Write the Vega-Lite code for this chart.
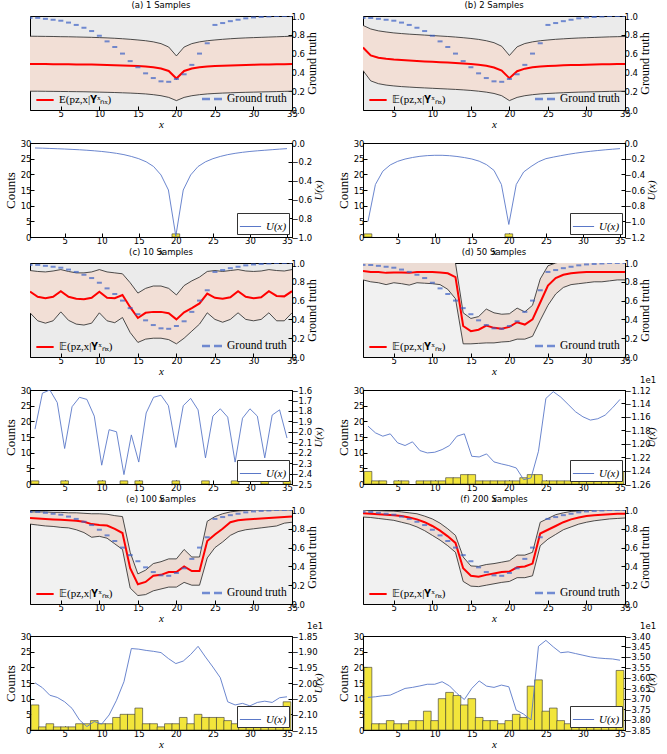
{
"$schema": "https://vega.github.io/schema/vega-lite/v6.json",
"padding": {"left": 3, "top": 0, "right": 2, "bottom": 2},
"config": {
  "font": "DejaVu Sans",
  "view": {"stroke": "#000", "strokeWidth": 1},
  "axis": {"grid": false, "domainColor": "#000", "tickColor": "#000", "labelFont": "DejaVu Sans", "labelFontSize": 8.5, "labelColor": "#000", "titleFont": "Liberation Serif", "titleFontWeight": "normal", "titleFontSize": 12, "titleColor": "#000", "tickSize": -4, "labelPadding": 3, "labelOverlap": false, "labelFlush": false, "titlePadding": 3},
  "title": {"font": "DejaVu Sans", "fontSize": 8.5, "fontWeight": "normal", "offset": 3, "color": "#000"},
  "legend": {"labelFont": "Liberation Serif", "labelFontSize": 11.5, "labelColor": "#000"}
},
"datasets": {
"gt": [{"x":1,"g":0.98},{"x":2,"g":0.98},{"x":3,"g":0.97},{"x":4,"g":0.96},{"x":5,"g":0.95},{"x":6,"g":0.93},{"x":7,"g":0.905},{"x":8,"g":0.875},{"x":9,"g":0.84},{"x":10,"g":0.79},{"x":11,"g":0.73},{"x":12,"g":0.67},{"x":13,"g":0.6},{"x":14,"g":0.52},{"x":15,"g":0.455},{"x":16,"g":0.39},{"x":17,"g":0.34},{"x":18,"g":0.305},{"x":19,"g":0.3},{"x":20,"g":0.33},{"x":21,"g":0.38},{"x":22,"g":0.48},{"x":23,"g":0.6},{"x":24,"g":0.71},{"x":25,"g":0.905},{"x":26,"g":0.925},{"x":27,"g":0.945},{"x":28,"g":0.96},{"x":29,"g":0.975},{"x":30,"g":0.985},{"x":31,"g":0.99},{"x":32,"g":0.995},{"x":33,"g":1.0},{"x":34,"g":1.0},{"x":35,"g":1.0}],
"top": [
{"p":"a","x":1,"m":0.49,"lo":0.2,"hi":0.785},{"p":"a","x":2,"m":0.49,"lo":0.2,"hi":0.784},{"p":"a","x":3,"m":0.489,"lo":0.199,"hi":0.783},{"p":"a","x":4,"m":0.488,"lo":0.198,"hi":0.782},{"p":"a","x":5,"m":0.487,"lo":0.197,"hi":0.78},{"p":"a","x":6,"m":0.486,"lo":0.196,"hi":0.779},{"p":"a","x":7,"m":0.485,"lo":0.195,"hi":0.777},{"p":"a","x":8,"m":0.484,"lo":0.194,"hi":0.775},{"p":"a","x":9,"m":0.483,"lo":0.192,"hi":0.773},{"p":"a","x":10,"m":0.481,"lo":0.19,"hi":0.77},{"p":"a","x":11,"m":0.479,"lo":0.188,"hi":0.767},{"p":"a","x":12,"m":0.477,"lo":0.186,"hi":0.763},{"p":"a","x":13,"m":0.474,"lo":0.183,"hi":0.758},{"p":"a","x":14,"m":0.471,"lo":0.18,"hi":0.752},{"p":"a","x":15,"m":0.467,"lo":0.176,"hi":0.745},{"p":"a","x":16,"m":0.462,"lo":0.171,"hi":0.737},{"p":"a","x":17,"m":0.454,"lo":0.163,"hi":0.725},{"p":"a","x":18,"m":0.441,"lo":0.152,"hi":0.706},{"p":"a","x":19,"m":0.415,"lo":0.134,"hi":0.67},{"p":"a","x":20,"m":0.335,"lo":0.1,"hi":0.575},{"p":"a","x":21,"m":0.415,"lo":0.134,"hi":0.67},{"p":"a","x":22,"m":0.441,"lo":0.152,"hi":0.706},{"p":"a","x":23,"m":0.454,"lo":0.163,"hi":0.725},{"p":"a","x":24,"m":0.462,"lo":0.171,"hi":0.737},{"p":"a","x":25,"m":0.467,"lo":0.176,"hi":0.745},{"p":"a","x":26,"m":0.471,"lo":0.18,"hi":0.752},{"p":"a","x":27,"m":0.474,"lo":0.183,"hi":0.758},{"p":"a","x":28,"m":0.477,"lo":0.186,"hi":0.763},{"p":"a","x":29,"m":0.479,"lo":0.188,"hi":0.767},{"p":"a","x":30,"m":0.481,"lo":0.19,"hi":0.77},{"p":"a","x":31,"m":0.483,"lo":0.192,"hi":0.773},{"p":"a","x":32,"m":0.485,"lo":0.194,"hi":0.776},{"p":"a","x":33,"m":0.487,"lo":0.196,"hi":0.779},{"p":"a","x":34,"m":0.488,"lo":0.198,"hi":0.782},{"p":"a","x":35,"m":0.49,"lo":0.2,"hi":0.785},
{"p":"b","x":1,"m":0.665,"lo":0.42,"hi":0.9},{"p":"b","x":2,"m":0.58,"lo":0.31,"hi":0.862},{"p":"b","x":3,"m":0.556,"lo":0.28,"hi":0.842},{"p":"b","x":4,"m":0.545,"lo":0.265,"hi":0.83},{"p":"b","x":5,"m":0.537,"lo":0.256,"hi":0.82},{"p":"b","x":6,"m":0.531,"lo":0.249,"hi":0.813},{"p":"b","x":7,"m":0.526,"lo":0.244,"hi":0.807},{"p":"b","x":8,"m":0.521,"lo":0.239,"hi":0.802},{"p":"b","x":9,"m":0.517,"lo":0.235,"hi":0.797},{"p":"b","x":10,"m":0.513,"lo":0.231,"hi":0.792},{"p":"b","x":11,"m":0.509,"lo":0.227,"hi":0.787},{"p":"b","x":12,"m":0.505,"lo":0.223,"hi":0.782},{"p":"b","x":13,"m":0.5,"lo":0.219,"hi":0.776},{"p":"b","x":14,"m":0.495,"lo":0.214,"hi":0.769},{"p":"b","x":15,"m":0.489,"lo":0.208,"hi":0.761},{"p":"b","x":16,"m":0.481,"lo":0.2,"hi":0.751},{"p":"b","x":17,"m":0.47,"lo":0.19,"hi":0.737},{"p":"b","x":18,"m":0.452,"lo":0.176,"hi":0.716},{"p":"b","x":19,"m":0.42,"lo":0.152,"hi":0.678},{"p":"b","x":20,"m":0.338,"lo":0.1,"hi":0.58},{"p":"b","x":21,"m":0.413,"lo":0.134,"hi":0.672},{"p":"b","x":22,"m":0.44,"lo":0.152,"hi":0.707},{"p":"b","x":23,"m":0.454,"lo":0.163,"hi":0.725},{"p":"b","x":24,"m":0.462,"lo":0.171,"hi":0.737},{"p":"b","x":25,"m":0.468,"lo":0.176,"hi":0.745},{"p":"b","x":26,"m":0.472,"lo":0.18,"hi":0.752},{"p":"b","x":27,"m":0.475,"lo":0.184,"hi":0.757},{"p":"b","x":28,"m":0.478,"lo":0.187,"hi":0.762},{"p":"b","x":29,"m":0.48,"lo":0.19,"hi":0.766},{"p":"b","x":30,"m":0.482,"lo":0.192,"hi":0.769},{"p":"b","x":31,"m":0.484,"lo":0.194,"hi":0.772},{"p":"b","x":32,"m":0.486,"lo":0.196,"hi":0.775},{"p":"b","x":33,"m":0.487,"lo":0.198,"hi":0.778},{"p":"b","x":34,"m":0.489,"lo":0.199,"hi":0.78},{"p":"b","x":35,"m":0.49,"lo":0.2,"hi":0.782},
{"p":"c","x":1,"m":0.695,"lo":0.47,"hi":0.92},{"p":"c","x":2,"m":0.64,"lo":0.385,"hi":0.91},{"p":"c","x":3,"m":0.625,"lo":0.36,"hi":0.905},{"p":"c","x":4,"m":0.64,"lo":0.385,"hi":0.915},{"p":"c","x":5,"m":0.7,"lo":0.48,"hi":0.93},{"p":"c","x":6,"m":0.64,"lo":0.39,"hi":0.91},{"p":"c","x":7,"m":0.62,"lo":0.35,"hi":0.895},{"p":"c","x":8,"m":0.615,"lo":0.34,"hi":0.895},{"p":"c","x":9,"m":0.63,"lo":0.36,"hi":0.905},{"p":"c","x":10,"m":0.695,"lo":0.47,"hi":0.93},{"p":"c","x":11,"m":0.63,"lo":0.385,"hi":0.905},{"p":"c","x":12,"m":0.625,"lo":0.365,"hi":0.895},{"p":"c","x":13,"m":0.66,"lo":0.42,"hi":0.885},{"p":"c","x":14,"m":0.53,"lo":0.26,"hi":0.79},{"p":"c","x":15,"m":0.415,"lo":0.155,"hi":0.68},{"p":"c","x":16,"m":0.47,"lo":0.19,"hi":0.73},{"p":"c","x":17,"m":0.48,"lo":0.2,"hi":0.755},{"p":"c","x":18,"m":0.48,"lo":0.2,"hi":0.755},{"p":"c","x":19,"m":0.465,"lo":0.185,"hi":0.73},{"p":"c","x":20,"m":0.4,"lo":0.14,"hi":0.66},{"p":"c","x":21,"m":0.475,"lo":0.2,"hi":0.76},{"p":"c","x":22,"m":0.52,"lo":0.275,"hi":0.81},{"p":"c","x":23,"m":0.57,"lo":0.35,"hi":0.85},{"p":"c","x":24,"m":0.675,"lo":0.47,"hi":0.91},{"p":"c","x":25,"m":0.63,"lo":0.4,"hi":0.92},{"p":"c","x":26,"m":0.62,"lo":0.37,"hi":0.91},{"p":"c","x":27,"m":0.635,"lo":0.4,"hi":0.92},{"p":"c","x":28,"m":0.7,"lo":0.47,"hi":0.93},{"p":"c","x":29,"m":0.64,"lo":0.4,"hi":0.915},{"p":"c","x":30,"m":0.625,"lo":0.385,"hi":0.91},{"p":"c","x":31,"m":0.635,"lo":0.4,"hi":0.915},{"p":"c","x":32,"m":0.7,"lo":0.47,"hi":0.93},{"p":"c","x":33,"m":0.65,"lo":0.385,"hi":0.92},{"p":"c","x":34,"m":0.645,"lo":0.385,"hi":0.915},{"p":"c","x":35,"m":0.7,"lo":0.47,"hi":0.93},
{"p":"d","x":1,"m":0.915,"lo":0.82,"hi":1.05},{"p":"d","x":2,"m":0.905,"lo":0.8,"hi":1.05},{"p":"d","x":3,"m":0.905,"lo":0.79,"hi":1.05},{"p":"d","x":4,"m":0.895,"lo":0.77,"hi":1.05},{"p":"d","x":5,"m":0.9,"lo":0.79,"hi":1.05},{"p":"d","x":6,"m":0.9,"lo":0.78,"hi":1.05},{"p":"d","x":7,"m":0.895,"lo":0.765,"hi":1.05},{"p":"d","x":8,"m":0.905,"lo":0.79,"hi":1.05},{"p":"d","x":9,"m":0.905,"lo":0.785,"hi":1.05},{"p":"d","x":10,"m":0.905,"lo":0.78,"hi":1.05},{"p":"d","x":11,"m":0.9,"lo":0.77,"hi":1.05},{"p":"d","x":12,"m":0.89,"lo":0.72,"hi":1.05},{"p":"d","x":13,"m":0.85,"lo":0.62,"hi":1.0},{"p":"d","x":14,"m":0.33,"lo":0.14,"hi":0.47},{"p":"d","x":15,"m":0.275,"lo":0.14,"hi":0.41},{"p":"d","x":16,"m":0.29,"lo":0.145,"hi":0.43},{"p":"d","x":17,"m":0.335,"lo":0.15,"hi":0.51},{"p":"d","x":18,"m":0.31,"lo":0.15,"hi":0.47},{"p":"d","x":19,"m":0.3,"lo":0.16,"hi":0.455},{"p":"d","x":20,"m":0.32,"lo":0.165,"hi":0.46},{"p":"d","x":21,"m":0.37,"lo":0.19,"hi":0.52},{"p":"d","x":22,"m":0.345,"lo":0.19,"hi":0.48},{"p":"d","x":23,"m":0.4,"lo":0.22,"hi":0.55},{"p":"d","x":24,"m":0.58,"lo":0.39,"hi":0.83},{"p":"d","x":25,"m":0.76,"lo":0.55,"hi":0.97},{"p":"d","x":26,"m":0.84,"lo":0.67,"hi":1.0},{"p":"d","x":27,"m":0.875,"lo":0.74,"hi":1.02},{"p":"d","x":28,"m":0.89,"lo":0.77,"hi":1.03},{"p":"d","x":29,"m":0.9,"lo":0.78,"hi":1.04},{"p":"d","x":30,"m":0.905,"lo":0.79,"hi":1.05},{"p":"d","x":31,"m":0.905,"lo":0.8,"hi":1.05},{"p":"d","x":32,"m":0.905,"lo":0.8,"hi":1.05},{"p":"d","x":33,"m":0.905,"lo":0.81,"hi":1.05},{"p":"d","x":34,"m":0.905,"lo":0.82,"hi":1.05},{"p":"d","x":35,"m":0.905,"lo":0.82,"hi":1.05},
{"p":"e","x":1,"m":0.915,"lo":0.85,"hi":0.98},{"p":"e","x":2,"m":0.91,"lo":0.84,"hi":0.98},{"p":"e","x":3,"m":0.905,"lo":0.83,"hi":0.98},{"p":"e","x":4,"m":0.9,"lo":0.825,"hi":0.975},{"p":"e","x":5,"m":0.895,"lo":0.815,"hi":0.975},{"p":"e","x":6,"m":0.89,"lo":0.81,"hi":0.97},{"p":"e","x":7,"m":0.885,"lo":0.79,"hi":0.97},{"p":"e","x":8,"m":0.875,"lo":0.76,"hi":0.965},{"p":"e","x":9,"m":0.85,"lo":0.71,"hi":0.96},{"p":"e","x":10,"m":0.84,"lo":0.72,"hi":0.96},{"p":"e","x":11,"m":0.835,"lo":0.7,"hi":0.955},{"p":"e","x":12,"m":0.8,"lo":0.64,"hi":0.94},{"p":"e","x":13,"m":0.755,"lo":0.58,"hi":0.93},{"p":"e","x":14,"m":0.38,"lo":0.17,"hi":0.55},{"p":"e","x":15,"m":0.21,"lo":0.09,"hi":0.32},{"p":"e","x":16,"m":0.235,"lo":0.1,"hi":0.36},{"p":"e","x":17,"m":0.3,"lo":0.14,"hi":0.43},{"p":"e","x":18,"m":0.31,"lo":0.16,"hi":0.45},{"p":"e","x":19,"m":0.34,"lo":0.18,"hi":0.48},{"p":"e","x":20,"m":0.34,"lo":0.18,"hi":0.48},{"p":"e","x":21,"m":0.4,"lo":0.23,"hi":0.58},{"p":"e","x":22,"m":0.35,"lo":0.2,"hi":0.5},{"p":"e","x":23,"m":0.35,"lo":0.2,"hi":0.5},{"p":"e","x":24,"m":0.67,"lo":0.49,"hi":0.88},{"p":"e","x":25,"m":0.74,"lo":0.6,"hi":0.93},{"p":"e","x":26,"m":0.8,"lo":0.66,"hi":0.96},{"p":"e","x":27,"m":0.87,"lo":0.73,"hi":0.98},{"p":"e","x":28,"m":0.89,"lo":0.77,"hi":0.99},{"p":"e","x":29,"m":0.9,"lo":0.79,"hi":0.995},{"p":"e","x":30,"m":0.905,"lo":0.8,"hi":1.0},{"p":"e","x":31,"m":0.91,"lo":0.81,"hi":1.0},{"p":"e","x":32,"m":0.915,"lo":0.82,"hi":1.0},{"p":"e","x":33,"m":0.92,"lo":0.83,"hi":1.0},{"p":"e","x":34,"m":0.925,"lo":0.86,"hi":1.0},{"p":"e","x":35,"m":0.93,"lo":0.87,"hi":1.0},
{"p":"f","x":1,"m":0.965,"lo":0.925,"hi":1.0},{"p":"f","x":2,"m":0.96,"lo":0.92,"hi":0.995},{"p":"f","x":3,"m":0.955,"lo":0.91,"hi":0.993},{"p":"f","x":4,"m":0.95,"lo":0.9,"hi":0.99},{"p":"f","x":5,"m":0.945,"lo":0.89,"hi":0.988},{"p":"f","x":6,"m":0.935,"lo":0.87,"hi":0.98},{"p":"f","x":7,"m":0.92,"lo":0.85,"hi":0.97},{"p":"f","x":8,"m":0.9,"lo":0.82,"hi":0.96},{"p":"f","x":9,"m":0.87,"lo":0.78,"hi":0.935},{"p":"f","x":10,"m":0.83,"lo":0.73,"hi":0.905},{"p":"f","x":11,"m":0.78,"lo":0.68,"hi":0.86},{"p":"f","x":12,"m":0.72,"lo":0.62,"hi":0.8},{"p":"f","x":13,"m":0.65,"lo":0.55,"hi":0.73},{"p":"f","x":14,"m":0.38,"lo":0.24,"hi":0.5},{"p":"f","x":15,"m":0.3,"lo":0.19,"hi":0.405},{"p":"f","x":16,"m":0.29,"lo":0.185,"hi":0.4},{"p":"f","x":17,"m":0.31,"lo":0.2,"hi":0.42},{"p":"f","x":18,"m":0.325,"lo":0.215,"hi":0.43},{"p":"f","x":19,"m":0.34,"lo":0.23,"hi":0.445},{"p":"f","x":20,"m":0.345,"lo":0.24,"hi":0.46},{"p":"f","x":21,"m":0.39,"lo":0.28,"hi":0.52},{"p":"f","x":22,"m":0.4,"lo":0.28,"hi":0.52},{"p":"f","x":23,"m":0.43,"lo":0.3,"hi":0.55},{"p":"f","x":24,"m":0.75,"lo":0.62,"hi":0.87},{"p":"f","x":25,"m":0.79,"lo":0.69,"hi":0.91},{"p":"f","x":26,"m":0.83,"lo":0.74,"hi":0.95},{"p":"f","x":27,"m":0.87,"lo":0.79,"hi":0.97},{"p":"f","x":28,"m":0.9,"lo":0.82,"hi":0.985},{"p":"f","x":29,"m":0.92,"lo":0.85,"hi":0.99},{"p":"f","x":30,"m":0.935,"lo":0.87,"hi":0.995},{"p":"f","x":31,"m":0.945,"lo":0.885,"hi":1.0},{"p":"f","x":32,"m":0.95,"lo":0.895,"hi":1.0},{"p":"f","x":33,"m":0.955,"lo":0.905,"hi":1.0},{"p":"f","x":34,"m":0.96,"lo":0.91,"hi":1.0},{"p":"f","x":35,"m":0.96,"lo":0.915,"hi":1.0}
],
"bot": [
{"p":"a","x":1,"c":0,"u":-0.053},{"p":"a","x":2,"c":0,"u":-0.055},{"p":"a","x":3,"c":0,"u":-0.058},{"p":"a","x":4,"c":0,"u":-0.061},{"p":"a","x":5,"c":0,"u":-0.064},{"p":"a","x":6,"c":0,"u":-0.068},{"p":"a","x":7,"c":0,"u":-0.072},{"p":"a","x":8,"c":0,"u":-0.077},{"p":"a","x":9,"c":0,"u":-0.083},{"p":"a","x":10,"c":0,"u":-0.09},{"p":"a","x":11,"c":0,"u":-0.099},{"p":"a","x":12,"c":0,"u":-0.11},{"p":"a","x":13,"c":0,"u":-0.124},{"p":"a","x":14,"c":0,"u":-0.143},{"p":"a","x":15,"c":0,"u":-0.167},{"p":"a","x":16,"c":0,"u":-0.2},{"p":"a","x":17,"c":0,"u":-0.25},{"p":"a","x":18,"c":0,"u":-0.34},{"p":"a","x":19,"c":0,"u":-0.5},{"p":"a","x":20,"c":1,"u":-0.99},{"p":"a","x":21,"c":0,"u":-0.5},{"p":"a","x":22,"c":0,"u":-0.34},{"p":"a","x":23,"c":0,"u":-0.25},{"p":"a","x":24,"c":0,"u":-0.2},{"p":"a","x":25,"c":0,"u":-0.167},{"p":"a","x":26,"c":0,"u":-0.143},{"p":"a","x":27,"c":0,"u":-0.124},{"p":"a","x":28,"c":0,"u":-0.11},{"p":"a","x":29,"c":0,"u":-0.099},{"p":"a","x":30,"c":0,"u":-0.09},{"p":"a","x":31,"c":0,"u":-0.083},{"p":"a","x":32,"c":0,"u":-0.077},{"p":"a","x":33,"c":0,"u":-0.071},{"p":"a","x":34,"c":0,"u":-0.065},{"p":"a","x":35,"c":0,"u":-0.06},
{"p":"b","x":1,"c":1,"u":-1.0},{"p":"b","x":2,"c":0,"u":-0.53},{"p":"b","x":3,"c":0,"u":-0.36},{"p":"b","x":4,"c":0,"u":-0.28},{"p":"b","x":5,"c":0,"u":-0.234},{"p":"b","x":6,"c":0,"u":-0.205},{"p":"b","x":7,"c":0,"u":-0.185},{"p":"b","x":8,"c":0,"u":-0.17},{"p":"b","x":9,"c":0,"u":-0.161},{"p":"b","x":10,"c":0,"u":-0.157},{"p":"b","x":11,"c":0,"u":-0.157},{"p":"b","x":12,"c":0,"u":-0.162},{"p":"b","x":13,"c":0,"u":-0.172},{"p":"b","x":14,"c":0,"u":-0.186},{"p":"b","x":15,"c":0,"u":-0.204},{"p":"b","x":16,"c":0,"u":-0.232},{"p":"b","x":17,"c":0,"u":-0.277},{"p":"b","x":18,"c":0,"u":-0.35},{"p":"b","x":19,"c":0,"u":-0.53},{"p":"b","x":20,"c":1,"u":-1.04},{"p":"b","x":21,"c":0,"u":-0.53},{"p":"b","x":22,"c":0,"u":-0.37},{"p":"b","x":23,"c":0,"u":-0.3},{"p":"b","x":24,"c":0,"u":-0.24},{"p":"b","x":25,"c":0,"u":-0.2},{"p":"b","x":26,"c":0,"u":-0.18},{"p":"b","x":27,"c":0,"u":-0.162},{"p":"b","x":28,"c":0,"u":-0.145},{"p":"b","x":29,"c":0,"u":-0.13},{"p":"b","x":30,"c":0,"u":-0.117},{"p":"b","x":31,"c":0,"u":-0.106},{"p":"b","x":32,"c":0,"u":-0.096},{"p":"b","x":33,"c":0,"u":-0.087},{"p":"b","x":34,"c":0,"u":-0.079},{"p":"b","x":35,"c":0,"u":-0.072},
{"p":"c","x":1,"c":1,"u":-1.975},{"p":"c","x":2,"c":0,"u":-1.63},{"p":"c","x":3,"c":0,"u":-1.6},{"p":"c","x":4,"c":0,"u":-1.72},{"p":"c","x":5,"c":1,"u":-2.16},{"p":"c","x":6,"c":0,"u":-1.76},{"p":"c","x":7,"c":0,"u":-1.67},{"p":"c","x":8,"c":0,"u":-1.69},{"p":"c","x":9,"c":0,"u":-1.85},{"p":"c","x":10,"c":1,"u":-2.32},{"p":"c","x":11,"c":0,"u":-1.98},{"p":"c","x":12,"c":0,"u":-2.0},{"p":"c","x":13,"c":1,"u":-2.41},{"p":"c","x":14,"c":0,"u":-2.03},{"p":"c","x":15,"c":1,"u":-2.29},{"p":"c","x":16,"c":0,"u":-1.82},{"p":"c","x":17,"c":0,"u":-1.67},{"p":"c","x":18,"c":0,"u":-1.65},{"p":"c","x":19,"c":0,"u":-1.75},{"p":"c","x":20,"c":1,"u":-2.15},{"p":"c","x":21,"c":0,"u":-1.75},{"p":"c","x":22,"c":0,"u":-1.68},{"p":"c","x":23,"c":0,"u":-1.79},{"p":"c","x":24,"c":1,"u":-2.25},{"p":"c","x":25,"c":0,"u":-1.85},{"p":"c","x":26,"c":0,"u":-1.78},{"p":"c","x":27,"c":0,"u":-1.86},{"p":"c","x":28,"c":1,"u":-2.29},{"p":"c","x":29,"c":0,"u":-1.87},{"p":"c","x":30,"c":0,"u":-1.78},{"p":"c","x":31,"c":0,"u":-1.85},{"p":"c","x":32,"c":1,"u":-2.25},{"p":"c","x":33,"c":0,"u":-1.84},{"p":"c","x":34,"c":0,"u":-1.79},{"p":"c","x":35,"c":1,"u":-2.06},
{"p":"d","x":1,"c":4,"u":-1.1738},{"p":"d","x":2,"c":1,"u":-1.1838},{"p":"d","x":3,"c":1,"u":-1.1888},{"p":"d","x":4,"c":0,"u":-1.1853},{"p":"d","x":5,"c":1,"u":-1.1987},{"p":"d","x":6,"c":1,"u":-1.2027},{"p":"d","x":7,"c":0,"u":-1.1972},{"p":"d","x":8,"c":1,"u":-1.2102},{"p":"d","x":9,"c":1,"u":-1.2137},{"p":"d","x":10,"c":1,"u":-1.2127},{"p":"d","x":11,"c":1,"u":-1.2087},{"p":"d","x":12,"c":2,"u":-1.2027},{"p":"d","x":13,"c":2,"u":-1.1888},{"p":"d","x":14,"c":3,"u":-1.1853},{"p":"d","x":15,"c":3,"u":-1.2187},{"p":"d","x":16,"c":1,"u":-1.2197},{"p":"d","x":17,"c":1,"u":-1.2152},{"p":"d","x":18,"c":1,"u":-1.2271},{"p":"d","x":19,"c":1,"u":-1.2301},{"p":"d","x":20,"c":1,"u":-1.2326},{"p":"d","x":21,"c":1,"u":-1.2361},{"p":"d","x":22,"c":2,"u":-1.2535},{"p":"d","x":23,"c":3,"u":-1.251},{"p":"d","x":24,"c":3,"u":-1.2112},{"p":"d","x":25,"c":1,"u":-1.1325},{"p":"d","x":26,"c":1,"u":-1.1225},{"p":"d","x":27,"c":1,"u":-1.1305},{"p":"d","x":28,"c":1,"u":-1.1414},{"p":"d","x":29,"c":1,"u":-1.1524},{"p":"d","x":30,"c":1,"u":-1.1599},{"p":"d","x":31,"c":1,"u":-1.1648},{"p":"d","x":32,"c":1,"u":-1.1628},{"p":"d","x":33,"c":1,"u":-1.1574},{"p":"d","x":34,"c":1,"u":-1.1464},{"p":"d","x":35,"c":4,"u":-1.134},
{"p":"e","x":1,"c":8,"u":-1.9995},{"p":"e","x":2,"c":1,"u":-2.015},{"p":"e","x":3,"c":2,"u":-2.039},{"p":"e","x":4,"c":1,"u":-2.046},{"p":"e","x":5,"c":1,"u":-2.06},{"p":"e","x":6,"c":1,"u":-2.081},{"p":"e","x":7,"c":2,"u":-2.118},{"p":"e","x":8,"c":2,"u":-2.139},{"p":"e","x":9,"c":3,"u":-2.123},{"p":"e","x":10,"c":2,"u":-2.131},{"p":"e","x":11,"c":2,"u":-2.102},{"p":"e","x":12,"c":4,"u":-2.055},{"p":"e","x":13,"c":5,"u":-1.996},{"p":"e","x":14,"c":5,"u":-1.89},{"p":"e","x":15,"c":7,"u":-1.892},{"p":"e","x":16,"c":2,"u":-1.896},{"p":"e","x":17,"c":2,"u":-1.899},{"p":"e","x":18,"c":1,"u":-1.903},{"p":"e","x":19,"c":2,"u":-1.922},{"p":"e","x":20,"c":2,"u":-1.938},{"p":"e","x":21,"c":4,"u":-1.93},{"p":"e","x":22,"c":2,"u":-1.909},{"p":"e","x":23,"c":5,"u":-1.883},{"p":"e","x":24,"c":4,"u":-1.917},{"p":"e","x":25,"c":4,"u":-1.949},{"p":"e","x":26,"c":4,"u":-1.983},{"p":"e","x":27,"c":3,"u":-2.06},{"p":"e","x":28,"c":2,"u":-2.07},{"p":"e","x":29,"c":2,"u":-2.065},{"p":"e","x":30,"c":1,"u":-2.073},{"p":"e","x":31,"c":2,"u":-2.062},{"p":"e","x":32,"c":1,"u":-2.058},{"p":"e","x":33,"c":1,"u":-2.062},{"p":"e","x":34,"c":1,"u":-2.047},{"p":"e","x":35,"c":9,"u":-2.044},
{"p":"f","x":1,"c":20,"u":-3.694},{"p":"f","x":2,"c":2,"u":-3.691},{"p":"f","x":3,"c":2,"u":-3.686},{"p":"f","x":4,"c":3,"u":-3.683},{"p":"f","x":5,"c":2,"u":-3.667},{"p":"f","x":6,"c":2,"u":-3.651},{"p":"f","x":7,"c":3,"u":-3.646},{"p":"f","x":8,"c":3,"u":-3.639},{"p":"f","x":9,"c":6,"u":-3.631},{"p":"f","x":10,"c":3,"u":-3.631},{"p":"f","x":11,"c":10,"u":-3.619},{"p":"f","x":12,"c":12,"u":-3.639},{"p":"f","x":13,"c":11,"u":-3.675},{"p":"f","x":14,"c":8,"u":-3.704},{"p":"f","x":15,"c":10,"u":-3.651},{"p":"f","x":16,"c":4,"u":-3.615},{"p":"f","x":17,"c":3,"u":-3.64},{"p":"f","x":18,"c":3,"u":-3.646},{"p":"f","x":19,"c":2,"u":-3.635},{"p":"f","x":20,"c":3,"u":-3.643},{"p":"f","x":21,"c":5,"u":-3.755},{"p":"f","x":22,"c":4,"u":-3.774},{"p":"f","x":23,"c":14,"u":-3.802},{"p":"f","x":24,"c":16,"u":-3.449},{"p":"f","x":25,"c":6,"u":-3.421},{"p":"f","x":26,"c":7,"u":-3.452},{"p":"f","x":27,"c":3,"u":-3.48},{"p":"f","x":28,"c":2,"u":-3.476},{"p":"f","x":29,"c":2,"u":-3.484},{"p":"f","x":30,"c":2,"u":-3.492},{"p":"f","x":31,"c":2,"u":-3.5},{"p":"f","x":32,"c":2,"u":-3.505},{"p":"f","x":33,"c":2,"u":-3.508},{"p":"f","x":34,"c":2,"u":-3.51},{"p":"f","x":35,"c":19,"u":-3.516}
]
},
"spacing": -10,
"resolve": {"scale": {"color": "independent", "stroke": "independent"}, "legend": {"color": "independent", "stroke": "independent"}},
"vconcat": [
{
"columns": 2, "bounds": "flush", "spacing": {"row": 33, "column": 71},
"resolve": {"scale": {"color": "independent", "stroke": "independent"}, "legend": {"color": "independent", "stroke": "independent"}},
"concat": [
{"title": "(a) 1 Samples", "width": 262, "height": 94, "view": {"fill": "#ebebeb"}, "resolve": {"scale": {"y": "independent"}},
 "layer": [
  {"data": {"name": "top"}, "transform": [{"filter": "datum.p == 'a'"}],
   "layer": [
    {"mark": {"type": "area", "color": "#f2dfd6", "clip": true}, "encoding": {"x": {"field": "x", "type": "quantitative", "scale": {"domain": [1, 35], "nice": false, "zero": false}, "axis": {"values": [5,10,15,20,25,30,35], "title": "x", "titleFontStyle": "italic", "titleFontSize": 11, "titlePadding": 1}}, "y": {"field": "lo", "type": "quantitative", "scale": {"domain": [0, 1], "nice": false}, "axis": {"values": [0,0.2,0.4,0.6,0.8,1], "format": ".1f", "title": "pz,x", "titleFontStyle": "italic"}}, "y2": {"field": "hi"}}},
    {"mark": {"type": "line", "color": "#222", "strokeWidth": 0.8, "clip": true}, "encoding": {"x": {"field": "x", "type": "quantitative", "scale": {"domain": [1, 35], "nice": false, "zero": false}, "axis": {"values": [5,10,15,20,25,30,35], "title": "x", "titleFontStyle": "italic", "titleFontSize": 11, "titlePadding": 1}}, "y": {"field": "hi", "type": "quantitative", "axis": null}}},
    {"mark": {"type": "line", "color": "#222", "strokeWidth": 0.8, "clip": true}, "encoding": {"x": {"field": "x", "type": "quantitative", "scale": {"domain": [1, 35], "nice": false, "zero": false}, "axis": {"values": [5,10,15,20,25,30,35], "title": "x", "titleFontStyle": "italic", "titleFontSize": 11, "titlePadding": 1}}, "y": {"field": "lo", "type": "quantitative", "axis": null}}},
    {"mark": {"type": "line", "strokeWidth": 2, "clip": true}, "encoding": {"x": {"field": "x", "type": "quantitative", "scale": {"domain": [1, 35], "nice": false, "zero": false}, "axis": {"values": [5,10,15,20,25,30,35], "title": "x", "titleFontStyle": "italic", "titleFontSize": 11, "titlePadding": 1}}, "y": {"field": "m", "type": "quantitative", "axis": null}, "stroke": {"datum": "E(pz,x|𝐘ˣₙₓ)", "scale": {"range": ["#ff0000"]}, "legend": {"title": null, "orient": "bottom-left", "offset": 3, "padding": 2, "symbolType": "stroke", "symbolSize": 300, "symbolStrokeWidth": 2, "labelFontSize": 11}}}}
   ]},
  {"data": {"name": "gt"}, "mark": {"type": "tick", "orient": "horizontal", "size": 5, "thickness": 2, "clip": true}, "encoding": {"x": {"field": "x", "type": "quantitative", "scale": {"domain": [1, 35], "nice": false, "zero": false}, "axis": {"values": [5,10,15,20,25,30,35], "title": "x", "titleFontStyle": "italic", "titleFontSize": 11, "titlePadding": 1}}, "y": {"field": "g", "type": "quantitative", "scale": {"domain": [0, 1], "nice": false}, "axis": {"orient": "right", "values": [0,0.2,0.4,0.6,0.8,1], "format": ".1f", "title": "Ground truth", "titleAngle": 270, "titleBaseline": "top", "titlePadding": 2}}, "color": {"datum": "Ground truth", "scale": {"range": ["#3b5fc4"]}, "legend": {"title": null, "orient": "bottom-right", "offset": 3, "padding": 2, "symbolType": "M-1,-0.12H-0.2V0.12H-1Z M0.2,-0.12H1V0.12H0.2Z", "symbolSize": 400}}}}
 ]},
{"title": "(b) 2 Samples", "width": 262, "height": 94, "view": {"fill": "#ebebeb"}, "resolve": {"scale": {"y": "independent"}},
 "layer": [
  {"data": {"name": "top"}, "transform": [{"filter": "datum.p == 'b'"}],
   "layer": [
    {"mark": {"type": "area", "color": "#f2dfd6", "clip": true}, "encoding": {"x": {"field": "x", "type": "quantitative", "scale": {"domain": [1, 35], "nice": false, "zero": false}, "axis": {"values": [5,10,15,20,25,30,35], "title": "x", "titleFontStyle": "italic", "titleFontSize": 11, "titlePadding": 1}}, "y": {"field": "lo", "type": "quantitative", "scale": {"domain": [0, 1], "nice": false}, "axis": {"values": [0,0.2,0.4,0.6,0.8,1], "format": ".1f", "title": "pz,x", "titleFontStyle": "italic"}}, "y2": {"field": "hi"}}},
    {"mark": {"type": "line", "color": "#222", "strokeWidth": 0.8, "clip": true}, "encoding": {"x": {"field": "x", "type": "quantitative", "scale": {"domain": [1, 35], "nice": false, "zero": false}, "axis": {"values": [5,10,15,20,25,30,35], "title": "x", "titleFontStyle": "italic", "titleFontSize": 11, "titlePadding": 1}}, "y": {"field": "hi", "type": "quantitative", "axis": null}}},
    {"mark": {"type": "line", "color": "#222", "strokeWidth": 0.8, "clip": true}, "encoding": {"x": {"field": "x", "type": "quantitative", "scale": {"domain": [1, 35], "nice": false, "zero": false}, "axis": {"values": [5,10,15,20,25,30,35], "title": "x", "titleFontStyle": "italic", "titleFontSize": 11, "titlePadding": 1}}, "y": {"field": "lo", "type": "quantitative", "axis": null}}},
    {"mark": {"type": "line", "strokeWidth": 2, "clip": true}, "encoding": {"x": {"field": "x", "type": "quantitative", "scale": {"domain": [1, 35], "nice": false, "zero": false}, "axis": {"values": [5,10,15,20,25,30,35], "title": "x", "titleFontStyle": "italic", "titleFontSize": 11, "titlePadding": 1}}, "y": {"field": "m", "type": "quantitative", "axis": null}, "stroke": {"datum": "𝔼(pz,x|𝐘ˣₙₓ)", "scale": {"range": ["#ff0000"]}, "legend": {"title": null, "orient": "bottom-left", "offset": 3, "padding": 2, "symbolType": "stroke", "symbolSize": 300, "symbolStrokeWidth": 2, "labelFontSize": 11}}}}
   ]},
  {"data": {"name": "gt"}, "mark": {"type": "tick", "orient": "horizontal", "size": 5, "thickness": 2, "clip": true}, "encoding": {"x": {"field": "x", "type": "quantitative", "scale": {"domain": [1, 35], "nice": false, "zero": false}, "axis": {"values": [5,10,15,20,25,30,35], "title": "x", "titleFontStyle": "italic", "titleFontSize": 11, "titlePadding": 1}}, "y": {"field": "g", "type": "quantitative", "scale": {"domain": [0, 1], "nice": false}, "axis": {"orient": "right", "values": [0,0.2,0.4,0.6,0.8,1], "format": ".1f", "title": "Ground truth", "titleAngle": 270, "titleBaseline": "top", "titlePadding": 2}}, "color": {"datum": "Ground truth", "scale": {"range": ["#3b5fc4"]}, "legend": {"title": null, "orient": "bottom-right", "offset": 3, "padding": 2, "symbolType": "M-1,-0.12H-0.2V0.12H-1Z M0.2,-0.12H1V0.12H0.2Z", "symbolSize": 400}}}}
 ]},
{"width": 262, "height": 94, "view": {"fill": "#ffffff"}, "data": {"name": "bot"}, "transform": [{"filter": "datum.p == 'a'"}], "resolve": {"scale": {"y": "independent"}},
 "layer": [
  {"transform": [{"filter": "datum.c > 0"}], "mark": {"type": "bar", "width": 7.7, "color": "#f2e53b", "stroke": "#333", "strokeWidth": 0.6, "clip": true}, "encoding": {"x": {"field": "x", "type": "quantitative", "scale": {"domain": [1, 35], "nice": false, "zero": false}, "axis": {"values": [5,10,15,20,25,30,35], "title": "x", "titleFontStyle": "italic", "titleFontSize": 11, "titlePadding": 1}}, "y": {"field": "c", "type": "quantitative", "scale": {"domain": [0, 30], "nice": false}, "axis": {"values": [0,5,10,15,20,25,30], "title": "Counts", "titleFontSize": 13}}}},
  {"mark": {"type": "line", "strokeWidth": 0.9, "clip": true}, "encoding": {"x": {"field": "x", "type": "quantitative", "scale": {"domain": [1, 35], "nice": false, "zero": false}, "axis": {"values": [5,10,15,20,25,30,35], "title": "x", "titleFontStyle": "italic", "titleFontSize": 11, "titlePadding": 1}}, "y": {"field": "u", "type": "quantitative", "scale": {"domain": [-1, 0], "nice": false, "zero": false}, "axis": {"orient": "right", "values": [0,-0.2,-0.4,-0.6,-0.8,-1], "format": ".1f", "title": "U(x)", "titleFontStyle": "italic", "titleFontSize": 11, "titleAngle": 270, "titleBaseline": "top", "titlePadding": 1}}, "stroke": {"datum": "U(x)", "scale": {"range": ["#5a78c8"]}, "legend": {"title": null, "orient": "bottom-right", "offset": 3, "padding": 2, "strokeColor": "#333", "fillColor": "#fff", "symbolType": "stroke", "symbolSize": 450, "symbolStrokeWidth": 1, "labelFontStyle": "italic", "labelFontSize": 11}}}}
 ]},
{"width": 262, "height": 94, "view": {"fill": "#ffffff"}, "data": {"name": "bot"}, "transform": [{"filter": "datum.p == 'b'"}], "resolve": {"scale": {"y": "independent"}},
 "layer": [
  {"transform": [{"filter": "datum.c > 0"}], "mark": {"type": "bar", "width": 7.7, "color": "#f2e53b", "stroke": "#333", "strokeWidth": 0.6, "clip": true}, "encoding": {"x": {"field": "x", "type": "quantitative", "scale": {"domain": [1, 35], "nice": false, "zero": false}, "axis": {"values": [5,10,15,20,25,30,35], "title": "x", "titleFontStyle": "italic", "titleFontSize": 11, "titlePadding": 1}}, "y": {"field": "c", "type": "quantitative", "scale": {"domain": [0, 30], "nice": false}, "axis": {"values": [0,5,10,15,20,25,30], "title": "Counts", "titleFontSize": 13}}}},
  {"mark": {"type": "line", "strokeWidth": 0.9, "clip": true}, "encoding": {"x": {"field": "x", "type": "quantitative", "scale": {"domain": [1, 35], "nice": false, "zero": false}, "axis": {"values": [5,10,15,20,25,30,35], "title": "x", "titleFontStyle": "italic", "titleFontSize": 11, "titlePadding": 1}}, "y": {"field": "u", "type": "quantitative", "scale": {"domain": [-1.2, 0], "nice": false, "zero": false}, "axis": {"orient": "right", "values": [0,-0.2,-0.4,-0.6,-0.8,-1,-1.2], "format": ".1f", "title": "U(x)", "titleFontStyle": "italic", "titleFontSize": 11, "titleAngle": 270, "titleBaseline": "top", "titlePadding": 1}}, "stroke": {"datum": "U(x)", "scale": {"range": ["#5a78c8"]}, "legend": {"title": null, "orient": "bottom-right", "offset": 3, "padding": 2, "strokeColor": "#333", "fillColor": "#fff", "symbolType": "stroke", "symbolSize": 450, "symbolStrokeWidth": 1, "labelFontStyle": "italic", "labelFontSize": 11}}}}
 ]}
]},
{
"columns": 2, "bounds": "flush", "spacing": {"row": 33, "column": 71},
"resolve": {"scale": {"color": "independent", "stroke": "independent"}, "legend": {"color": "independent", "stroke": "independent"}},
"concat": [
{"title": "(c) 10 Samples", "width": 262, "height": 94, "view": {"fill": "#ebebeb"}, "resolve": {"scale": {"y": "independent"}},
 "layer": [
  {"data": {"name": "top"}, "transform": [{"filter": "datum.p == 'c'"}],
   "layer": [
    {"mark": {"type": "area", "color": "#f2dfd6", "clip": true}, "encoding": {"x": {"field": "x", "type": "quantitative", "scale": {"domain": [1, 35], "nice": false, "zero": false}, "axis": {"values": [5,10,15,20,25,30,35], "title": "x", "titleFontStyle": "italic", "titleFontSize": 11, "titlePadding": 1}}, "y": {"field": "lo", "type": "quantitative", "scale": {"domain": [0, 1], "nice": false}, "axis": {"values": [0,0.2,0.4,0.6,0.8,1], "format": ".1f", "title": "pz,x", "titleFontStyle": "italic"}}, "y2": {"field": "hi"}}},
    {"mark": {"type": "line", "color": "#222", "strokeWidth": 0.8, "clip": true}, "encoding": {"x": {"field": "x", "type": "quantitative", "scale": {"domain": [1, 35], "nice": false, "zero": false}, "axis": {"values": [5,10,15,20,25,30,35], "title": "x", "titleFontStyle": "italic", "titleFontSize": 11, "titlePadding": 1}}, "y": {"field": "hi", "type": "quantitative", "axis": null}}},
    {"mark": {"type": "line", "color": "#222", "strokeWidth": 0.8, "clip": true}, "encoding": {"x": {"field": "x", "type": "quantitative", "scale": {"domain": [1, 35], "nice": false, "zero": false}, "axis": {"values": [5,10,15,20,25,30,35], "title": "x", "titleFontStyle": "italic", "titleFontSize": 11, "titlePadding": 1}}, "y": {"field": "lo", "type": "quantitative", "axis": null}}},
    {"mark": {"type": "line", "strokeWidth": 2, "clip": true}, "encoding": {"x": {"field": "x", "type": "quantitative", "scale": {"domain": [1, 35], "nice": false, "zero": false}, "axis": {"values": [5,10,15,20,25,30,35], "title": "x", "titleFontStyle": "italic", "titleFontSize": 11, "titlePadding": 1}}, "y": {"field": "m", "type": "quantitative", "axis": null}, "stroke": {"datum": "𝔼(pz,x|𝐘ˣₙₓ)", "scale": {"range": ["#ff0000"]}, "legend": {"title": null, "orient": "bottom-left", "offset": 3, "padding": 2, "symbolType": "stroke", "symbolSize": 300, "symbolStrokeWidth": 2, "labelFontSize": 11}}}}
   ]},
  {"data": {"name": "gt"}, "mark": {"type": "tick", "orient": "horizontal", "size": 5, "thickness": 2, "clip": true}, "encoding": {"x": {"field": "x", "type": "quantitative", "scale": {"domain": [1, 35], "nice": false, "zero": false}, "axis": {"values": [5,10,15,20,25,30,35], "title": "x", "titleFontStyle": "italic", "titleFontSize": 11, "titlePadding": 1}}, "y": {"field": "g", "type": "quantitative", "scale": {"domain": [0, 1], "nice": false}, "axis": {"orient": "right", "values": [0,0.2,0.4,0.6,0.8,1], "format": ".1f", "title": "Ground truth", "titleAngle": 270, "titleBaseline": "top", "titlePadding": 2}}, "color": {"datum": "Ground truth", "scale": {"range": ["#3b5fc4"]}, "legend": {"title": null, "orient": "bottom-right", "offset": 3, "padding": 2, "symbolType": "M-1,-0.12H-0.2V0.12H-1Z M0.2,-0.12H1V0.12H0.2Z", "symbolSize": 400}}}}
 ]},
{"title": "(d) 50 Samples", "width": 262, "height": 94, "view": {"fill": "#f1f1f1"}, "resolve": {"scale": {"y": "independent"}},
 "layer": [
  {"data": {"name": "top"}, "transform": [{"filter": "datum.p == 'd'"}],
   "layer": [
    {"mark": {"type": "area", "color": "#ecdcd4", "clip": true}, "encoding": {"x": {"field": "x", "type": "quantitative", "scale": {"domain": [1, 35], "nice": false, "zero": false}, "axis": {"values": [5,10,15,20,25,30,35], "title": "x", "titleFontStyle": "italic", "titleFontSize": 11, "titlePadding": 1}}, "y": {"field": "lo", "type": "quantitative", "scale": {"domain": [0, 1], "nice": false}, "axis": {"values": [0,0.2,0.4,0.6,0.8,1], "format": ".1f", "title": "pz,x", "titleFontStyle": "italic"}}, "y2": {"field": "hi"}}},
    {"mark": {"type": "line", "color": "#222", "strokeWidth": 0.8, "clip": true}, "encoding": {"x": {"field": "x", "type": "quantitative", "scale": {"domain": [1, 35], "nice": false, "zero": false}, "axis": {"values": [5,10,15,20,25,30,35], "title": "x", "titleFontStyle": "italic", "titleFontSize": 11, "titlePadding": 1}}, "y": {"field": "hi", "type": "quantitative", "axis": null}}},
    {"mark": {"type": "line", "color": "#222", "strokeWidth": 0.8, "clip": true}, "encoding": {"x": {"field": "x", "type": "quantitative", "scale": {"domain": [1, 35], "nice": false, "zero": false}, "axis": {"values": [5,10,15,20,25,30,35], "title": "x", "titleFontStyle": "italic", "titleFontSize": 11, "titlePadding": 1}}, "y": {"field": "lo", "type": "quantitative", "axis": null}}},
    {"mark": {"type": "line", "strokeWidth": 2, "clip": true}, "encoding": {"x": {"field": "x", "type": "quantitative", "scale": {"domain": [1, 35], "nice": false, "zero": false}, "axis": {"values": [5,10,15,20,25,30,35], "title": "x", "titleFontStyle": "italic", "titleFontSize": 11, "titlePadding": 1}}, "y": {"field": "m", "type": "quantitative", "axis": null}, "stroke": {"datum": "𝔼(pz,x|𝐘ˣₙₓ)", "scale": {"range": ["#ff0000"]}, "legend": {"title": null, "orient": "bottom-left", "offset": 3, "padding": 2, "symbolType": "stroke", "symbolSize": 300, "symbolStrokeWidth": 2, "labelFontSize": 11}}}}
   ]},
  {"data": {"name": "gt"}, "mark": {"type": "tick", "orient": "horizontal", "size": 5, "thickness": 2, "clip": true}, "encoding": {"x": {"field": "x", "type": "quantitative", "scale": {"domain": [1, 35], "nice": false, "zero": false}, "axis": {"values": [5,10,15,20,25,30,35], "title": "x", "titleFontStyle": "italic", "titleFontSize": 11, "titlePadding": 1}}, "y": {"field": "g", "type": "quantitative", "scale": {"domain": [0, 1], "nice": false}, "axis": {"orient": "right", "values": [0,0.2,0.4,0.6,0.8,1], "format": ".1f", "title": "Ground truth", "titleAngle": 270, "titleBaseline": "top", "titlePadding": 2}}, "color": {"datum": "Ground truth", "scale": {"range": ["#3b5fc4"]}, "legend": {"title": null, "orient": "bottom-right", "offset": 3, "padding": 2, "symbolType": "M-1,-0.12H-0.2V0.12H-1Z M0.2,-0.12H1V0.12H0.2Z", "symbolSize": 400}}}}
 ]},
{"width": 262, "height": 94, "view": {"fill": "#ffffff"}, "data": {"name": "bot"}, "transform": [{"filter": "datum.p == 'c'"}], "resolve": {"scale": {"y": "independent"}},
 "layer": [
  {"transform": [{"filter": "datum.c > 0"}], "mark": {"type": "bar", "width": 7.7, "color": "#f2e53b", "stroke": "#333", "strokeWidth": 0.6, "clip": true}, "encoding": {"x": {"field": "x", "type": "quantitative", "scale": {"domain": [1, 35], "nice": false, "zero": false}, "axis": {"values": [5,10,15,20,25,30,35], "title": "x", "titleFontStyle": "italic", "titleFontSize": 11, "titlePadding": 1}}, "y": {"field": "c", "type": "quantitative", "scale": {"domain": [0, 30], "nice": false}, "axis": {"values": [0,5,10,15,20,25,30], "title": "Counts", "titleFontSize": 13}}}},
  {"mark": {"type": "line", "strokeWidth": 0.9, "clip": true}, "encoding": {"x": {"field": "x", "type": "quantitative", "scale": {"domain": [1, 35], "nice": false, "zero": false}, "axis": {"values": [5,10,15,20,25,30,35], "title": "x", "titleFontStyle": "italic", "titleFontSize": 11, "titlePadding": 1}}, "y": {"field": "u", "type": "quantitative", "scale": {"domain": [-2.5, -1.6], "nice": false, "zero": false}, "axis": {"orient": "right", "values": [-1.6,-1.7,-1.8,-1.9,-2.0,-2.1,-2.2,-2.3,-2.4,-2.5], "format": ".1f", "title": "U(x)", "titleFontStyle": "italic", "titleFontSize": 11, "titleAngle": 270, "titleBaseline": "top", "titlePadding": 1}}, "stroke": {"datum": "U(x)", "scale": {"range": ["#5a78c8"]}, "legend": {"title": null, "orient": "bottom-right", "offset": 3, "padding": 2, "strokeColor": "#333", "fillColor": "#fff", "symbolType": "stroke", "symbolSize": 450, "symbolStrokeWidth": 1, "labelFontStyle": "italic", "labelFontSize": 11}}}}
 ]},
{"title": {"text": "1e1", "anchor": "end", "fontSize": 8.5, "offset": 2}, "width": 262, "height": 94, "view": {"fill": "#ffffff"}, "data": {"name": "bot"}, "transform": [{"filter": "datum.p == 'd'"}], "resolve": {"scale": {"y": "independent"}},
 "layer": [
  {"transform": [{"filter": "datum.c > 0"}], "mark": {"type": "bar", "width": 7.7, "color": "#f2e53b", "stroke": "#333", "strokeWidth": 0.6, "clip": true}, "encoding": {"x": {"field": "x", "type": "quantitative", "scale": {"domain": [1, 35], "nice": false, "zero": false}, "axis": {"values": [5,10,15,20,25,30,35], "title": "x", "titleFontStyle": "italic", "titleFontSize": 11, "titlePadding": 1}}, "y": {"field": "c", "type": "quantitative", "scale": {"domain": [0, 30], "nice": false}, "axis": {"values": [0,5,10,15,20,25,30], "title": "Counts", "titleFontSize": 13}}}},
  {"mark": {"type": "line", "strokeWidth": 0.9, "clip": true}, "encoding": {"x": {"field": "x", "type": "quantitative", "scale": {"domain": [1, 35], "nice": false, "zero": false}, "axis": {"values": [5,10,15,20,25,30,35], "title": "x", "titleFontStyle": "italic", "titleFontSize": 11, "titlePadding": 1}}, "y": {"field": "u", "type": "quantitative", "scale": {"domain": [-1.26, -1.12], "nice": false, "zero": false}, "axis": {"orient": "right", "values": [-1.12,-1.14,-1.16,-1.18,-1.2,-1.22,-1.24,-1.26], "format": ".2f", "title": "U(x)", "titleFontStyle": "italic", "titleFontSize": 11, "titleAngle": 270, "titleBaseline": "top", "titlePadding": -5}}, "stroke": {"datum": "U(x)", "scale": {"range": ["#5a78c8"]}, "legend": {"title": null, "orient": "bottom-right", "offset": 3, "padding": 2, "strokeColor": "#333", "fillColor": "#fff", "symbolType": "stroke", "symbolSize": 450, "symbolStrokeWidth": 1, "labelFontStyle": "italic", "labelFontSize": 11}}}}
 ]}
]},
{
"columns": 2, "bounds": "flush", "spacing": {"row": 32, "column": 71},
"resolve": {"scale": {"color": "independent", "stroke": "independent"}, "legend": {"color": "independent", "stroke": "independent"}},
"concat": [
{"title": "(e) 100 Samples", "width": 262, "height": 94, "view": {"fill": "#f1f1f1"}, "resolve": {"scale": {"y": "independent"}},
 "layer": [
  {"data": {"name": "top"}, "transform": [{"filter": "datum.p == 'e'"}],
   "layer": [
    {"mark": {"type": "area", "color": "#ecdcd4", "clip": true}, "encoding": {"x": {"field": "x", "type": "quantitative", "scale": {"domain": [1, 35], "nice": false, "zero": false}, "axis": {"values": [5,10,15,20,25,30,35], "title": "x", "titleFontStyle": "italic", "titleFontSize": 11, "titlePadding": 1}}, "y": {"field": "lo", "type": "quantitative", "scale": {"domain": [0, 1], "nice": false}, "axis": {"values": [0,0.2,0.4,0.6,0.8,1], "format": ".1f", "title": "pz,x", "titleFontStyle": "italic"}}, "y2": {"field": "hi"}}},
    {"mark": {"type": "line", "color": "#222", "strokeWidth": 0.8, "clip": true}, "encoding": {"x": {"field": "x", "type": "quantitative", "scale": {"domain": [1, 35], "nice": false, "zero": false}, "axis": {"values": [5,10,15,20,25,30,35], "title": "x", "titleFontStyle": "italic", "titleFontSize": 11, "titlePadding": 1}}, "y": {"field": "hi", "type": "quantitative", "axis": null}}},
    {"mark": {"type": "line", "color": "#222", "strokeWidth": 0.8, "clip": true}, "encoding": {"x": {"field": "x", "type": "quantitative", "scale": {"domain": [1, 35], "nice": false, "zero": false}, "axis": {"values": [5,10,15,20,25,30,35], "title": "x", "titleFontStyle": "italic", "titleFontSize": 11, "titlePadding": 1}}, "y": {"field": "lo", "type": "quantitative", "axis": null}}},
    {"mark": {"type": "line", "strokeWidth": 2, "clip": true}, "encoding": {"x": {"field": "x", "type": "quantitative", "scale": {"domain": [1, 35], "nice": false, "zero": false}, "axis": {"values": [5,10,15,20,25,30,35], "title": "x", "titleFontStyle": "italic", "titleFontSize": 11, "titlePadding": 1}}, "y": {"field": "m", "type": "quantitative", "axis": null}, "stroke": {"datum": "𝔼(pz,x|𝐘ˣₙₓ)", "scale": {"range": ["#ff0000"]}, "legend": {"title": null, "orient": "bottom-left", "offset": 3, "padding": 2, "symbolType": "stroke", "symbolSize": 300, "symbolStrokeWidth": 2, "labelFontSize": 11}}}}
   ]},
  {"data": {"name": "gt"}, "mark": {"type": "tick", "orient": "horizontal", "size": 5, "thickness": 2, "clip": true}, "encoding": {"x": {"field": "x", "type": "quantitative", "scale": {"domain": [1, 35], "nice": false, "zero": false}, "axis": {"values": [5,10,15,20,25,30,35], "title": "x", "titleFontStyle": "italic", "titleFontSize": 11, "titlePadding": 1}}, "y": {"field": "g", "type": "quantitative", "scale": {"domain": [0, 1], "nice": false}, "axis": {"orient": "right", "values": [0,0.2,0.4,0.6,0.8,1], "format": ".1f", "title": "Ground truth", "titleAngle": 270, "titleBaseline": "top", "titlePadding": 2}}, "color": {"datum": "Ground truth", "scale": {"range": ["#3b5fc4"]}, "legend": {"title": null, "orient": "bottom-right", "offset": 3, "padding": 2, "symbolType": "M-1,-0.12H-0.2V0.12H-1Z M0.2,-0.12H1V0.12H0.2Z", "symbolSize": 400}}}}
 ]},
{"title": "(f) 200 Samples", "width": 262, "height": 94, "view": {"fill": "#f1f1f1"}, "resolve": {"scale": {"y": "independent"}},
 "layer": [
  {"data": {"name": "top"}, "transform": [{"filter": "datum.p == 'f'"}],
   "layer": [
    {"mark": {"type": "area", "color": "#ecdcd4", "clip": true}, "encoding": {"x": {"field": "x", "type": "quantitative", "scale": {"domain": [1, 35], "nice": false, "zero": false}, "axis": {"values": [5,10,15,20,25,30,35], "title": "x", "titleFontStyle": "italic", "titleFontSize": 11, "titlePadding": 1}}, "y": {"field": "lo", "type": "quantitative", "scale": {"domain": [0, 1], "nice": false}, "axis": {"values": [0,0.2,0.4,0.6,0.8,1], "format": ".1f", "title": "pz,x", "titleFontStyle": "italic"}}, "y2": {"field": "hi"}}},
    {"mark": {"type": "line", "color": "#222", "strokeWidth": 0.8, "clip": true}, "encoding": {"x": {"field": "x", "type": "quantitative", "scale": {"domain": [1, 35], "nice": false, "zero": false}, "axis": {"values": [5,10,15,20,25,30,35], "title": "x", "titleFontStyle": "italic", "titleFontSize": 11, "titlePadding": 1}}, "y": {"field": "hi", "type": "quantitative", "axis": null}}},
    {"mark": {"type": "line", "color": "#222", "strokeWidth": 0.8, "clip": true}, "encoding": {"x": {"field": "x", "type": "quantitative", "scale": {"domain": [1, 35], "nice": false, "zero": false}, "axis": {"values": [5,10,15,20,25,30,35], "title": "x", "titleFontStyle": "italic", "titleFontSize": 11, "titlePadding": 1}}, "y": {"field": "lo", "type": "quantitative", "axis": null}}},
    {"mark": {"type": "line", "strokeWidth": 2, "clip": true}, "encoding": {"x": {"field": "x", "type": "quantitative", "scale": {"domain": [1, 35], "nice": false, "zero": false}, "axis": {"values": [5,10,15,20,25,30,35], "title": "x", "titleFontStyle": "italic", "titleFontSize": 11, "titlePadding": 1}}, "y": {"field": "m", "type": "quantitative", "axis": null}, "stroke": {"datum": "𝔼(pz,x|𝐘ˣₙₓ)", "scale": {"range": ["#ff0000"]}, "legend": {"title": null, "orient": "bottom-left", "offset": 3, "padding": 2, "symbolType": "stroke", "symbolSize": 300, "symbolStrokeWidth": 2, "labelFontSize": 11}}}}
   ]},
  {"data": {"name": "gt"}, "mark": {"type": "tick", "orient": "horizontal", "size": 5, "thickness": 2, "clip": true}, "encoding": {"x": {"field": "x", "type": "quantitative", "scale": {"domain": [1, 35], "nice": false, "zero": false}, "axis": {"values": [5,10,15,20,25,30,35], "title": "x", "titleFontStyle": "italic", "titleFontSize": 11, "titlePadding": 1}}, "y": {"field": "g", "type": "quantitative", "scale": {"domain": [0, 1], "nice": false}, "axis": {"orient": "right", "values": [0,0.2,0.4,0.6,0.8,1], "format": ".1f", "title": "Ground truth", "titleAngle": 270, "titleBaseline": "top", "titlePadding": 2}}, "color": {"datum": "Ground truth", "scale": {"range": ["#3b5fc4"]}, "legend": {"title": null, "orient": "bottom-right", "offset": 3, "padding": 2, "symbolType": "M-1,-0.12H-0.2V0.12H-1Z M0.2,-0.12H1V0.12H0.2Z", "symbolSize": 400}}}}
 ]},
{"title": {"text": "1e1", "anchor": "end", "fontSize": 8.5, "offset": 2}, "width": 262, "height": 94, "view": {"fill": "#ffffff"}, "data": {"name": "bot"}, "transform": [{"filter": "datum.p == 'e'"}], "resolve": {"scale": {"y": "independent"}},
 "layer": [
  {"transform": [{"filter": "datum.c > 0"}], "mark": {"type": "bar", "width": 7.7, "color": "#f2e53b", "stroke": "#333", "strokeWidth": 0.6, "clip": true}, "encoding": {"x": {"field": "x", "type": "quantitative", "scale": {"domain": [1, 35], "nice": false, "zero": false}, "axis": {"values": [5,10,15,20,25,30,35], "title": "x", "titleFontStyle": "italic", "titleFontSize": 11, "titlePadding": 1}}, "y": {"field": "c", "type": "quantitative", "scale": {"domain": [0, 30], "nice": false}, "axis": {"values": [0,5,10,15,20,25,30], "title": "Counts", "titleFontSize": 13}}}},
  {"mark": {"type": "line", "strokeWidth": 0.9, "clip": true}, "encoding": {"x": {"field": "x", "type": "quantitative", "scale": {"domain": [1, 35], "nice": false, "zero": false}, "axis": {"values": [5,10,15,20,25,30,35], "title": "x", "titleFontStyle": "italic", "titleFontSize": 11, "titlePadding": 1}}, "y": {"field": "u", "type": "quantitative", "scale": {"domain": [-2.15, -1.85], "nice": false, "zero": false}, "axis": {"orient": "right", "values": [-1.85,-1.9,-1.95,-2.0,-2.05,-2.1,-2.15], "format": ".2f", "title": "U(x)", "titleFontStyle": "italic", "titleFontSize": 11, "titleAngle": 270, "titleBaseline": "top", "titlePadding": -5}}, "stroke": {"datum": "U(x)", "scale": {"range": ["#5a78c8"]}, "legend": {"title": null, "orient": "bottom-right", "offset": 3, "padding": 2, "strokeColor": "#333", "fillColor": "#fff", "symbolType": "stroke", "symbolSize": 450, "symbolStrokeWidth": 1, "labelFontStyle": "italic", "labelFontSize": 11}}}}
 ]},
{"title": {"text": "1e1", "anchor": "end", "fontSize": 8.5, "offset": 2}, "width": 262, "height": 94, "view": {"fill": "#ffffff"}, "data": {"name": "bot"}, "transform": [{"filter": "datum.p == 'f'"}], "resolve": {"scale": {"y": "independent"}},
 "layer": [
  {"transform": [{"filter": "datum.c > 0"}], "mark": {"type": "bar", "width": 7.7, "color": "#f2e53b", "stroke": "#333", "strokeWidth": 0.6, "clip": true}, "encoding": {"x": {"field": "x", "type": "quantitative", "scale": {"domain": [1, 35], "nice": false, "zero": false}, "axis": {"values": [5,10,15,20,25,30,35], "title": "x", "titleFontStyle": "italic", "titleFontSize": 11, "titlePadding": 1}}, "y": {"field": "c", "type": "quantitative", "scale": {"domain": [0, 30], "nice": false}, "axis": {"values": [0,5,10,15,20,25,30], "title": "Counts", "titleFontSize": 13}}}},
  {"mark": {"type": "line", "strokeWidth": 0.9, "clip": true}, "encoding": {"x": {"field": "x", "type": "quantitative", "scale": {"domain": [1, 35], "nice": false, "zero": false}, "axis": {"values": [5,10,15,20,25,30,35], "title": "x", "titleFontStyle": "italic", "titleFontSize": 11, "titlePadding": 1}}, "y": {"field": "u", "type": "quantitative", "scale": {"domain": [-3.85, -3.4], "nice": false, "zero": false}, "axis": {"orient": "right", "values": [-3.4,-3.45,-3.5,-3.55,-3.6,-3.65,-3.7,-3.75,-3.8,-3.85], "format": ".2f", "title": "U(x)", "titleFontStyle": "italic", "titleFontSize": 11, "titleAngle": 270, "titleBaseline": "top", "titlePadding": -5}}, "stroke": {"datum": "U(x)", "scale": {"range": ["#5a78c8"]}, "legend": {"title": null, "orient": "bottom-right", "offset": 3, "padding": 2, "strokeColor": "#333", "fillColor": "#fff", "symbolType": "stroke", "symbolSize": 450, "symbolStrokeWidth": 1, "labelFontStyle": "italic", "labelFontSize": 11}}}}
 ]}
]}
]
}
